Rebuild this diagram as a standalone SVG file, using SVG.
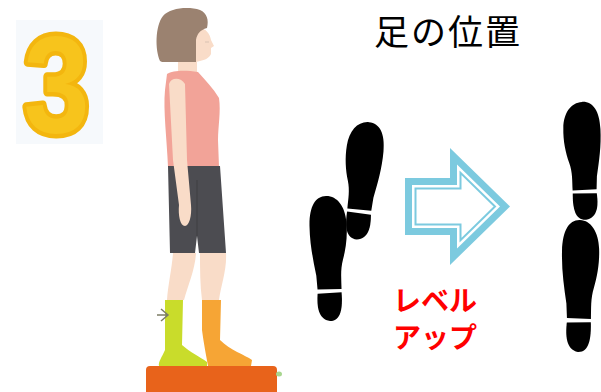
<svg xmlns="http://www.w3.org/2000/svg" width="601" height="392" viewBox="0 0 601 392">
  <style>
    .skin { fill: #f9dcc8; }
    .hair { fill: #9b8270; }
    .top { fill: #f2a398; }
    .shorts { fill: #4c4c51; }
    .print { fill: #000; filter: url(#soft); }
    .title { font-family: "Noto Sans CJK JP", "Noto Sans", sans-serif; font-size: 35px; fill: #000; letter-spacing: 2px; }
    .caption { font-family: "Noto Sans CJK JP", "Noto Sans", sans-serif; font-size: 28px; font-weight: bold; fill: #ff0000; }
  </style>
  <defs>
    <filter id="soft" x="-20%" y="-10%" width="140%" height="120%">
      <feGaussianBlur stdDeviation="0.7"/>
    </filter>
    <!-- right-foot print: sole + heel, top centre at origin -->
    <g id="foot">
      <path d="M2,0 C13,0 19,10 19,28 C19,45 16,60 13,75 L12,88 L-12,88 C-12,78 -11,70 -14,60 C-17,50 -19,38 -18,25 C-17,10 -9,0 2,0 Z"/>
      <path d="M-12,91 L12,92 C13,104 12,116 0,118 C-11,118 -13,106 -12,91 Z"/>
    </g>
  </defs>

  <rect width="601" height="392" fill="#fff"/>

  <!-- step number -->
  <g id="number">
    <rect x="16" y="20" width="87" height="124" fill="#f6f9fc"/>
    <text transform="translate(56.5,132) scale(0.86,1)" text-anchor="middle" font-family="Liberation Sans, Arial, sans-serif" font-weight="bold" font-size="138" fill="#f7c41c" stroke="#f3b60f" stroke-width="9" stroke-linejoin="round" paint-order="stroke">3</text>
  </g>

  <!-- standing figure -->
  <g id="figure">
    <rect class="skin" x="178" y="56" width="19" height="22"/>
    <path class="skin" d="M197,28 C205,27 210,33 211,40 L214,46 L211,48 L211,54 C209,58 205,60 200,61 L196,62 L196,35 Z"/>
    <path class="hair" d="M160,61 C155,50 155,26 163,16 C170,8 188,6 200,10 C207,13 209,20 207,28 C200,30 197,34 196,40 L196,62 L162,62 Z"/>
    <path d="M205,42 L209,42" stroke="#d9c2b2" stroke-width="1"/>
    <path class="top" d="M167,74 C173,70 186,70 198,72 C205,80 213,88 219,98 C221,112 218,126 218,140 L219,167 L168,167 C167,140 163,110 165,90 Z"/>
    <path class="shorts" d="M168,166 L220,166 L226,253 L199,253 L197,236 L195,253 L170,253 Z"/>
    <path d="M197,180 L197,236" stroke="#3e3e42" stroke-width="1"/>
    <path class="skin" d="M169,84 C171,77 181,77 185,84 L187,160 L191,205 C192,216 189,226 185,226 C180,226 178,215 179,205 L173,160 Z"/>
    <path class="skin" d="M173,253 L196,253 C195,270 188,285 184,300 L167,300 C168,285 172,268 173,253 Z"/>
    <path class="skin" d="M200,253 L226,253 C227,270 221,285 219,300 L202,300 C200,285 200,268 200,253 Z"/>
    <path fill="#c9dc2b" d="M165,300 L183,300 L182,345 C190,352 200,357 207,362 L207,366 L159,366 C158,362 162,357 165,350 Z"/>
    <path fill="#f6a535" d="M202,300 L221,300 L220,340 C230,350 245,355 252,360 L251,366 L208,366 C206,355 204,345 202,330 Z"/>
    <path d="M157,315 L168,315 M161,309 L168,315 L161,321" fill="none" stroke="#7c7c66" stroke-width="1.5"/>
  </g>

  <g id="step">
    <rect x="146" y="366" width="131" height="32" rx="4" fill="#e8631b"/>
    <ellipse cx="279" cy="374" rx="3" ry="2.5" fill="#a8d68f"/>
  </g>

  <g id="title">
    <text class="title" x="374" y="45">足の位置</text>
  </g>

  <!-- staggered stance -->
  <g id="feet-before" class="print">
    <use href="#foot" transform="translate(367,122) rotate(5)"/>
    <use href="#foot" transform="translate(328,196) scale(-1,1.06) rotate(1)"/>
  </g>

  <g id="arrow">
    <polygon points="405,178 450,178 450,148 510,206.5 450,265 450,235 405,235" fill="#7ccadf"/>
    <polygon points="412,185 457,185 457,164.6 500,206.5 457,248.4 457,228 412,228" fill="#fff"/>
    <polygon points="415.5,188.5 460.5,188.5 460.5,172.9 495,206.5 460.5,240.1 460.5,224.5 415.5,224.5" fill="#fff" stroke="#7ccadf" stroke-width="2"/>
  </g>

  <!-- heel-to-toe stance -->
  <g id="feet-after" class="print">
    <use href="#foot" transform="translate(580,102) rotate(-3)"/>
    <use href="#foot" transform="translate(582,220) scale(-1,1.12) rotate(-2)"/>
  </g>

  <g id="caption">
    <text class="caption" x="393" y="311">レベル</text>
    <text class="caption" x="393" y="348">アップ</text>
  </g>
</svg>
